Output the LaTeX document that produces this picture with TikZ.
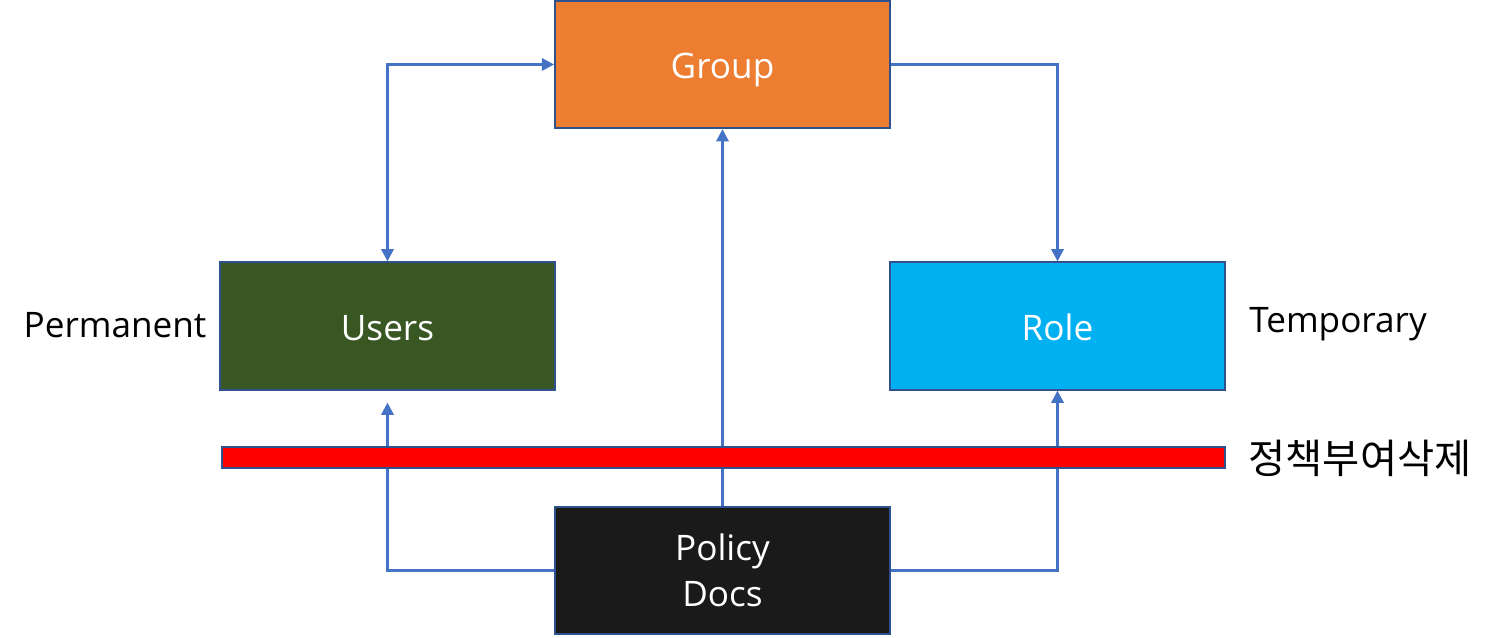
\documentclass[tikz,border=0pt]{standalone}
\usepackage{fontspec}
\setmainfont{Open Sans}
\newfontfamily\krfont{Noto Sans CJK KR}
\usepackage{tikz}
\usetikzlibrary{arrows.meta}
\definecolor{boxedge}{HTML}{2F528F}
\definecolor{linkblue}{HTML}{4472C4}
\definecolor{grouporange}{HTML}{ED7D31}
\definecolor{usergreen}{HTML}{385723}
\definecolor{rolecyan}{HTML}{00B0F0}
\definecolor{docblack}{HTML}{1A1A1A}
\tikzset{
  entity/.style={draw=boxedge, line width=1pt, minimum width=6.7cm, minimum height=2.55cm,
    text=white, font=\fontsize{20}{26}\selectfont, inner sep=0pt},
  oneline/.style={text height=20pt, text depth=4pt},
  link/.style={draw=linkblue, line width=1.4pt, -{Triangle[length=7pt,width=7pt]}},
  side/.style={font=\fontsize{20}{24}\selectfont}
}
\begin{document}
\begin{tikzpicture}
\useasboundingbox (0,0) rectangle (29.9,12.76);
% boxes
\node[entity, oneline, fill=grouporange] (group) at (14.45,11.47) {Group};
\node[entity, oneline, fill=usergreen] (users) at (7.75,6.24) {Users};
\node[entity, oneline, fill=rolecyan] (role) at (21.15,6.24) {Role};
\node[entity, align=center, fill=docblack] (policy) at (14.45,1.35) {Policy\\Docs};
% side labels
\node[side] (perm) at (2.3,6.26) {Permanent};
\node[side] (temp) at (26.76,6.28) {Temporary};
% connectors
\draw[link, {Triangle[length=7pt,width=7pt]}-{Triangle[length=7pt,width=7pt]}] (users.north) |- (group.west);
\draw[link] (group.east) -| (role.north);
\draw[link] (policy.north) -- (group.south);
\draw[link, shorten >=6.8pt] (policy.west) -| (users.south);
\draw[link] (policy.east) -| (role.south);
% bar
\node[draw=boxedge, line width=1pt, fill=red, minimum width=20.06cm, minimum height=0.42cm, inner sep=0pt] (bar) at (14.47,3.61) {};
\node[side, font=\krfont\fontsize{23}{28}\selectfont] (barlabel) at (27.2,3.6) {정책부여삭제};
\end{tikzpicture}
\end{document}
